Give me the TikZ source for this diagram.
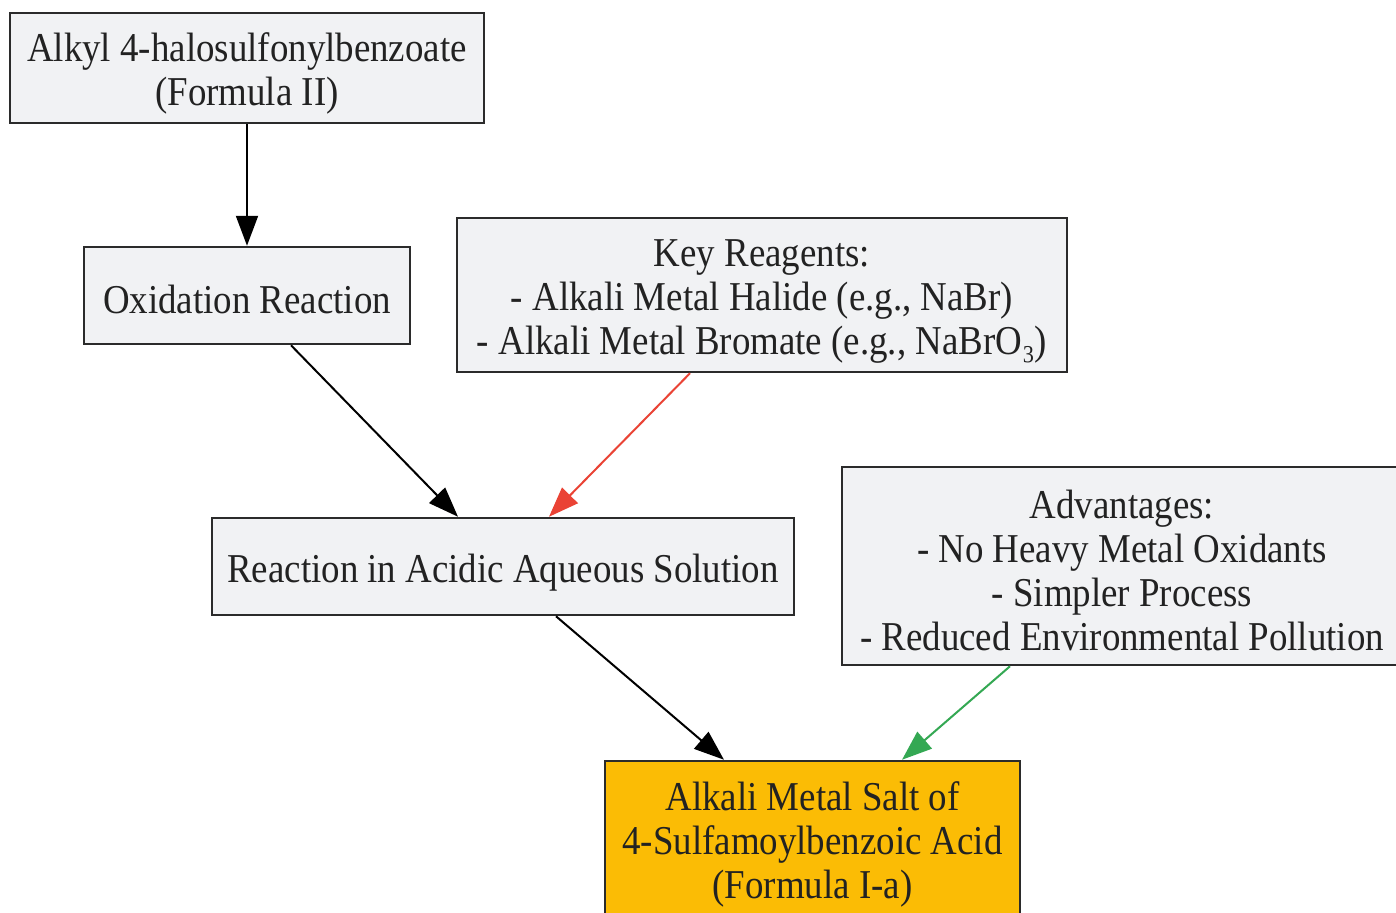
\documentclass[tikz,border=0pt]{standalone}
\usepackage{fontspec}
\setmainfont{Liberation Serif}[FakeStretch=0.9]
\usetikzlibrary{arrows.meta,calc}
\definecolor{boxfill}{HTML}{F1F2F4}
\definecolor{boxdraw}{HTML}{2B2B2B}
\definecolor{txt}{HTML}{222222}
\definecolor{redarrow}{HTML}{EA4335}
\definecolor{greenarrow}{HTML}{34A853}
\definecolor{goldfill}{HTML}{FBBC05}
\newcommand\lnstrut{\rule[-4pt]{0pt}{44pt}}
\newcommand\boxfont{\fontsize{41}{44}\selectfont\lineskiplimit=-100pt\relax\lineskip=0pt\relax}
\tikzset{
  box/.style={draw=boxdraw, line width=2.5pt, fill=boxfill, rectangle, inner sep=0pt, align=center, text=txt,
    font=\boxfont},
  conn/.style={line width=2pt, -{Triangle[length=30pt,width=22pt]}},
}
\begin{document}
\begin{tikzpicture}[x=1pt,y=-1pt]
\useasboundingbox (0,0) rectangle (1396,912);
\clip (0,0) rectangle (1396,912);
\fill[white] (0,0) rectangle (1396,912);
\node[box, minimum width=474pt, minimum height=110pt] (A) at (247,68) {\lnstrut Alkyl 4-halosulfonylbenzoate\\\lnstrut(Formula II)};
\node[box, minimum width=326pt, minimum height=97pt] (B) at (247,295.5) {\lnstrut Oxidation Reaction};
\node[box, minimum width=610pt, minimum height=154pt] (K) at (762,295) {\lnstrut Key Reagents:\\\lnstrut- Alkali Metal Halide (e.g., NaBr)\\\lnstrut- Alkali Metal Bromate (e.g., NaBrO₃)};
\node[box, minimum width=582pt, minimum height=97pt] (R) at (503,566.5) {\lnstrut Reaction in Acidic Aqueous Solution};
\node[box, minimum width=560pt, minimum height=198pt] (V) at (1122,566) {\lnstrut Advantages:\\\lnstrut- No Heavy Metal Oxidants\\\lnstrut- Simpler Process\\\lnstrut- Reduced Environmental Pollution};
\node[box, fill=goldfill, minimum width=415pt, minimum height=156pt] (F) at (812.5,839) {\lnstrut Alkali Metal Salt of\\\lnstrut 4-Sulfamoylbenzoic Acid\\\lnstrut(Formula I-a)};
\draw[conn] (A.south) -- (B.north);
\draw[conn] ([xshift=44pt]B.south) -- ([xshift=-45pt]R.north);
\draw[conn, draw=redarrow, fill=redarrow] ([xshift=-72pt]K.south) -- ([xshift=46pt]R.north);
\draw[conn] ([xshift=53pt]R.south) -- ([xshift=-88.5pt]F.north);
\draw[conn, draw=greenarrow, fill=greenarrow] ([xshift=-112pt]V.south) -- ([xshift=89.5pt]F.north);
\end{tikzpicture}
\end{document}
